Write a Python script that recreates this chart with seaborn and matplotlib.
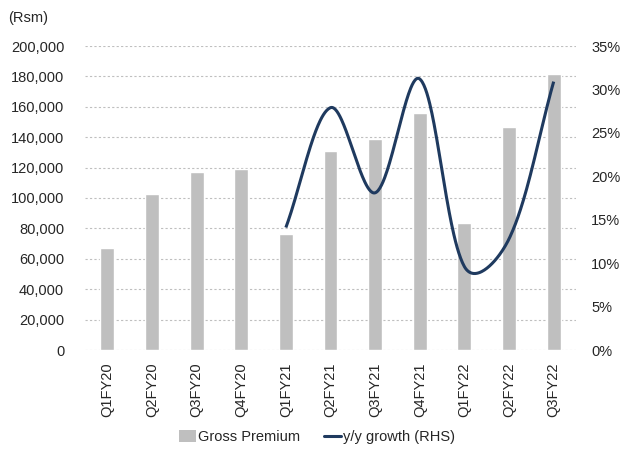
import numpy as np
import pandas as pd
import matplotlib
matplotlib.use("Agg")
import matplotlib.pyplot as plt
import seaborn as sns
from matplotlib.patches import Patch
from matplotlib.lines import Line2D
from matplotlib.ticker import FuncFormatter, MultipleLocator

categories = ["Q1FY20", "Q2FY20", "Q3FY20", "Q4FY20", "Q1FY21", "Q2FY21",
              "Q3FY21", "Q4FY21", "Q1FY22", "Q2FY22", "Q3FY22"]
gross_premium = [66800, 102400, 117300, 119100, 76300, 130800,
                 138700, 156200, 83700, 147000, 181700]
growth_cats = ["Q1FY21", "Q2FY21", "Q3FY21", "Q4FY21", "Q1FY22", "Q2FY22", "Q3FY22"]
growth = [14.1, 27.9, 18.1, 31.2, 9.6, 12.8, 30.9]

BAR = "#BFBFBF"
LINE = "#1F3A5F"
TXT = "#262626"
FS = 10.5

sns.set_theme(style="white")
plt.rcParams['font.family'] = ['Liberation Sans Narrow', 'Liberation Sans', 'DejaVu Sans']

fig = plt.figure(figsize=(6.22, 4.51), dpi=100)
ax = fig.add_axes([85/622, 1-350/451, 491/622, 304/451])

df = pd.DataFrame({"cat": categories, "val": gross_premium})
sns.barplot(data=df, x="cat", y="val", color=BAR, width=0.31,
            saturation=1, ax=ax, zorder=2)
ax.set_xlim(-0.5, len(categories) - 0.5)
ax.set_ylim(0, 200000)
ax.yaxis.set_major_locator(MultipleLocator(20000))
ax.yaxis.set_major_formatter(FuncFormatter(lambda v, p: f"{int(v):,}"))
ax.grid(axis="y", color="#BFBFBF", linestyle=(0, (2, 2)), linewidth=0.8, zorder=0)
ax.set_axisbelow(True)
ax.set_xlabel("")
ax.set_ylabel("")
for s in ax.spines.values():
    s.set_visible(False)
ax.tick_params(axis="both", length=0, labelsize=FS, colors=TXT)
ax.tick_params(axis="x", rotation=90, pad=9)
ax.tick_params(axis="y", pad=15)

ax2 = ax.twinx()
ax2.set_ylim(0, 35)
ax2.yaxis.set_major_locator(MultipleLocator(5))
ax2.yaxis.set_major_formatter(FuncFormatter(lambda v, p: f"{int(v)}%"))
for s in ax2.spines.values():
    s.set_visible(False)
ax2.tick_params(axis="y", length=0, labelsize=FS, colors=TXT, pad=11)
ax2.grid(False)

# Smoothed line (Bezier in display space, blend of uniform and length-weighted tangents)
xs = np.array([categories.index(c) for c in growth_cats], dtype=float)
ys = np.array(growth, dtype=float)
P = ax2.transData.transform(np.column_stack([xs, ys]))
n = len(P)
seg = np.linalg.norm(np.diff(P, axis=0), axis=1)
t = np.linspace(0, 1, 60)[:, None]
pts = []
for i in range(n - 1):
    p0, p3 = P[i], P[i + 1]
    if i == 0:
        c1 = p0 + (p3 - p0) / 3
    else:
        T = P[i + 1] - P[i - 1]
        w = seg[i] / (seg[i - 1] + seg[i])
        c1 = p0 + T * (0.5 + w) / 6
    if i + 1 == n - 1:
        c2 = p3 - (p3 - p0) / 3
    else:
        T = P[i + 2] - P[i]
        w = seg[i] / (seg[i] + seg[i + 1])
        c2 = p3 - T * (0.5 + w) / 6
    b = (1 - t) ** 3 * p0 + 3 * (1 - t) ** 2 * t * c1 + 3 * (1 - t) * t ** 2 * c2 + t ** 3 * p3
    pts.append(b)
pts = np.vstack(pts)
curve = ax2.transData.inverted().transform(pts)
ax2.plot(curve[:, 0], curve[:, 1], color=LINE, linewidth=2.2,
         solid_capstyle="butt", zorder=3)

fig.text(8/622, 1-18/451, "(Rsm)", fontsize=FS, color=TXT, va="center", ha="left")

handles = [Patch(facecolor=BAR, edgecolor="none"),
           Line2D([0], [0], color=LINE, linewidth=2.2)]
fig.legend(handles, ["Gross Premium", "y/y growth (RHS)"], loc="center",
           bbox_to_anchor=(317/622, 1-437/451), ncol=2, frameon=False,
           fontsize=FS, handlelength=1.2, handleheight=0.8, handletextpad=0.15,
           columnspacing=1.6, labelcolor=TXT)

fig.savefig("out.png", dpi=100)
